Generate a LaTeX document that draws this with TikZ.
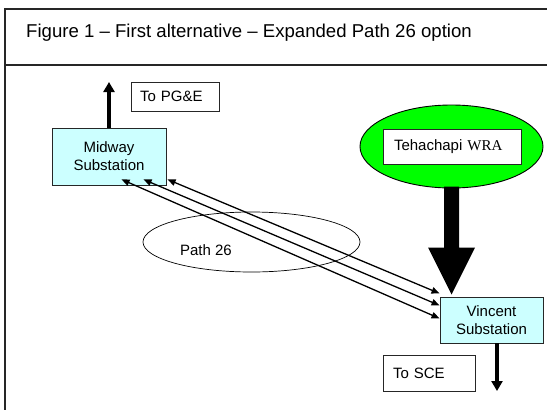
\documentclass[tikz,border=0pt]{standalone}
\usepackage{fontspec}
\setmainfont{Liberation Sans}
\newfontfamily\timesfont{Liberation Serif}
\usetikzlibrary{arrows.meta,calc,shapes.geometric}
\definecolor{boxcyan}{HTML}{CCFFFF}
\definecolor{wragreen}{HTML}{00FF00}
\begin{document}
\begin{tikzpicture}[x=1pt,y=-1pt,
  box/.style={draw=black!85, line width=0.9pt, inner sep=0pt},
  lbl/.style={font=\fontsize{15}{18}\selectfont},
  sub/.style={box, fill=boxcyan, align=center, lbl},
  feeder/.style={line width=1.3pt, {Triangle[length=8pt,width=6.5pt]}-{Triangle[length=8pt,width=6.5pt]}},
  outarrow/.style={line width=3.5pt, -{Triangle[length=10pt,width=11pt]}}]
\useasboundingbox (0,0) rectangle (547,410);
\clip (0,0) rectangle (547,410);
% frame
\draw[line width=1.2pt, black!85] (560,9) -- (5,9) -- (5,420);
\draw[line width=1.2pt, black!85] (5,65) -- (560,65);
\node[anchor=base west, inner sep=0pt, font=\fontsize{18.6}{22}\selectfont] (title) at (26,37.3) {Figure 1 – First alternative – Expanded Path 26 option};
% nodes
\node[sub, minimum width=114pt, minimum height=57pt] (mid) at (109,156.5) {Midway\\Substation};
\node[sub, minimum width=103pt, minimum height=46pt] (vin) at (491.5,320) {Vincent\\Substation};
\node[box, lbl, minimum height=29pt, text width=70pt, align=left, inner xsep=9pt] (pge) at (175,96.5) {To PG\&E};
\node[box, lbl, minimum height=36pt, text width=72pt, align=left, inner xsep=10pt] (sce) at (429,373) {To SCE};
\node[ellipse, draw=black, line width=0.9pt, fill=wragreen, minimum width=183pt, minimum height=83pt, inner sep=0pt] (teh) at (451.5,146.5) {};
\node[box, fill=white, lbl, minimum height=35pt, text width=116pt, align=left, inner xsep=11pt] (wra) at (452,146.5) {Tehachapi {\timesfont WRA}};
\node[ellipse, draw=black, line width=0.7pt, minimum width=217pt, minimum height=60pt, inner sep=0pt] (p26) at (251.5,242) {};
\node[lbl, inner sep=0pt] (p26t) at (206,250) {Path 26};
% feeders
\draw[feeder] ($(mid.south west)+(70,-6)$) -- ($(vin.south west)+(0,-25)$);
\draw[feeder] ($(mid.south west)+(92,-6)$) -- ($(vin.south west)+(0,-38)$);
\draw[feeder] ($(mid.south west)+(116,-6)$) -- ($(vin.south west)+(0,-50)$);
% outgoing arrows
\coordinate (pgetip) at (109,82);
\draw[outarrow] (mid.north) -- (pgetip);
\coordinate (scetip) at (497,391);
\draw[outarrow] (vin.south -| scetip) -- (scetip);
% big arrow
\coordinate (bigtip) at ($(vin.north west)+(12,-2)$);
\fill ($(bigtip)+(-7.5,-108)$) -- ($(bigtip)+(7.5,-108)$) -- ($(bigtip)+(7.5,-47)$) -- ($(bigtip)+(23.5,-47)$) -- (bigtip) -- ($(bigtip)+(-23.5,-47)$) -- ($(bigtip)+(-7.5,-47)$) -- cycle;
\end{tikzpicture}
\end{document}
